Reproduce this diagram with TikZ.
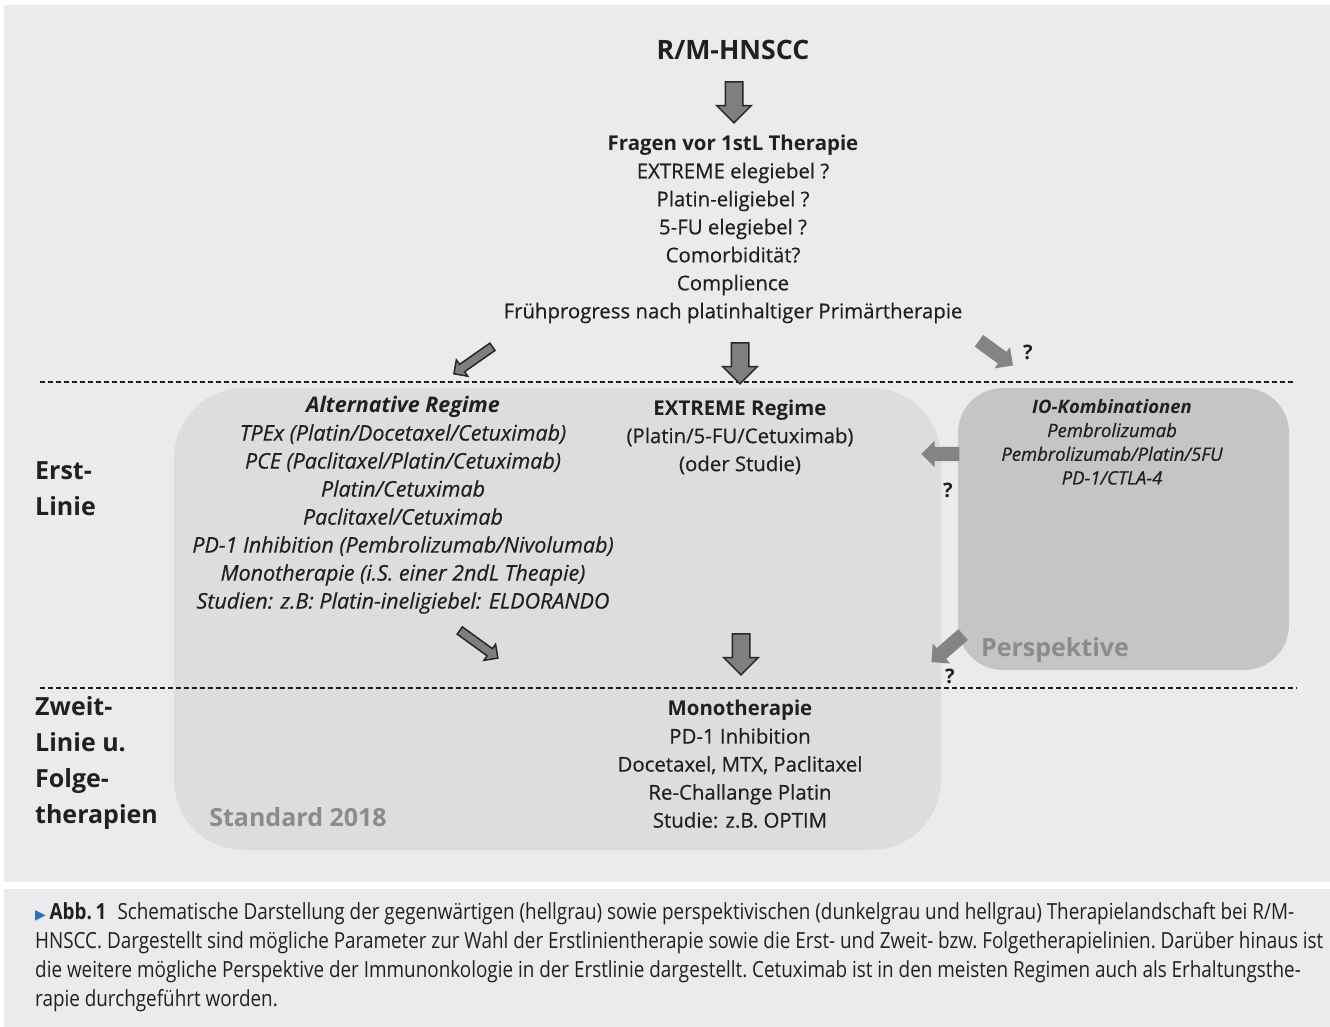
\documentclass[tikz,border=0pt]{standalone}
\usepackage{fontspec}
\setmainfont{Open Sans}[UprightFeatures={FakeBold=0.5}, ItalicFeatures={FakeBold=0.5}]
\newfontfamily\capfont[FakeStretch=0.85]{Open Sans}
\newfontfamily\symfont{DejaVu Sans}
\usetikzlibrary{shapes.arrows}
\definecolor{panelgray}{HTML}{EBEBED}
\definecolor{stdgray}{HTML}{DCDDDF}
\definecolor{iogray}{HTML}{C4C5C7}
\definecolor{taggray}{HTML}{8A8B8D}
\definecolor{textdark}{HTML}{231F20}
\definecolor{arrowfill}{HTML}{7E7F81}
\definecolor{arrowline}{HTML}{262626}
\definecolor{arrowgray}{HTML}{838486}
\definecolor{capblue}{HTML}{2C72B8}
\tikzstyle{panel} = [fill=panelgray, draw=none]
\tikzstyle{stdbox} = [fill=stdgray, draw=none, rounded corners=70pt]
\tikzstyle{iobox} = [fill=iogray, draw=none, rounded corners=45pt]
\tikzstyle{txt} = [align=center, inner sep=0pt, text=textdark, font=\fontsize{20.4}{28}\selectfont]
\tikzstyle{ittxt} = [align=center, inner sep=0pt, text=textdark, font=\itshape\fontsize{21.5}{28}\selectfont]
\tikzstyle{smalltxt} = [align=center, inner sep=0pt, text=textdark, font=\itshape\fontsize{18.5}{23.7}\selectfont]
\tikzstyle{linelabel} = [align=left, anchor=west, inner sep=0pt, text=textdark, font=\bfseries\fontsize{25}{36}\selectfont]
\tikzstyle{tag} = [inner sep=0pt, text=taggray, font=\bfseries\fontsize{25}{30}\selectfont]
\tikzstyle{qmark} = [inner sep=0pt, text=textdark, font=\bfseries\fontsize{20}{24}\selectfont]
\tikzstyle{bigarrow} = [single arrow, draw=arrowline, fill=arrowfill, line width=1.5pt, single arrow head extend=8.5pt, inner sep=8pt, minimum height=41pt]
\tikzstyle{thinarrow} = [single arrow, draw=arrowline, fill=arrowfill, line width=1.5pt, single arrow head extend=5.5pt, inner sep=3.7pt, minimum height=47pt]
\tikzstyle{grayarrow} = [single arrow, draw=none, fill=arrowgray, single arrow head extend=6pt, inner sep=7pt, minimum height=42pt]
\tikzstyle{sepline} = [dash pattern=on 5pt off 3pt, line width=1.1pt, draw=textdark]

\begin{document}
\begin{tikzpicture}[x=1pt, y=-1pt]
    \useasboundingbox (0,0) rectangle (1330,1027);
    % panels
    \fill [panel] (4,5) rectangle (1330,882);
    \fill [panel] (4,889) rectangle (1330,1027);
    \fill [stdbox] (174,388) rectangle (941,850);
    \fill [iobox] (958,388) rectangle (1289,670);
    \draw [sepline] (40,382) -- (1293,382);
    \draw [sepline] (40,688) -- (1297,688);

    \node [txt, font=\bfseries\fontsize{26.7}{30}\selectfont] at (733,50) (title) {R/M-HNSCC};
    \node [txt] at (733,229) (fragen) {\textbf{Fragen vor 1stL Therapie}\\
        EXTREME elegiebel ?\\ Platin-eligiebel ?\\ 5-FU elegiebel ?\\
        Comorbidität?\\ Complience\\
        Frühprogress nach platinhaltiger Primärtherapie};

    \node [ittxt] at (403,505) (altreg) {\textbf{Alternative Regime}\\
        TPEx (Platin/Docetaxel/Cetuximab)\\
        PCE (Paclitaxel/Platin/Cetuximab)\\
        Platin/Cetuximab\\ Paclitaxel/Cetuximab\\
        PD-1 Inhibition (Pembrolizumab/Nivolumab)\\
        Monotherapie (i.S. einer 2ndL Theapie)\\
        Studien: z.B: Platin-ineligiebel: ELDORANDO};
    \node [txt] at (740,437) (extreme) {\textbf{EXTREME Regime}\\
        (Platin/5-FU/Cetuximab)\\ (oder Studie)};
    \node [smalltxt] at (1112,442) (iokomb) {\textbf{IO-Kombinationen}\\
        Pembrolizumab\\ Pembrolizumab/Platin/5FU\\ PD-1/CTLA-4};
    \node [txt] at (740,764) (mono) {\textbf{Monotherapie}\\
        PD-1 Inhibition\\ Docetaxel, MTX, Paclitaxel\\
        Re-Challange Platin\\ Studie: z.B. OPTIM};

    \node [linelabel] at (35,488.5) (erst) {Erst-\\Linie};
    \node [linelabel] at (35,763) (zweit) {Zweit-\\Linie u.\\Folge-\\therapien};
    \node [tag] at (1055,650) (persp) {Perspektive};
    \node [tag] at (298,817) (standard) {Standard 2018};

    % block arrows
    \node [bigarrow, rotate=-90] at (734,98) (a1) {};
    \node [thinarrow, rotate=-145] at (475,359) (a2) {};
    \node [bigarrow, rotate=-90] at (740,359) (a3) {};
    \node [grayarrow, rotate=-36] at (993,351) (a4) {};
    \node [grayarrow, rotate=180, minimum height=38pt] at (944,454) (a5) {};
    \node [thinarrow, rotate=-36] at (477,643) (a6) {};
    \node [bigarrow, rotate=-90] at (741,650) (a7) {};
    \node [grayarrow, rotate=-139] at (950,646) (a8) {};
    \node [qmark] at (1028,352) (q1) {?};
    \node [qmark] at (948,490) (q2) {?};
    \node [qmark] at (950,676) (q3) {?};

    % caption
    \node [anchor=north west, align=left, inner sep=0pt, text=textdark,
        font=\capfont\fontsize{22.2}{29}\selectfont\frenchspacing] at (35,902) (caption)
        {{\symfont\color{capblue}\fontsize{14}{14}\selectfont ▶}\,\textbf{Abb.\,1}\enspace Schematische Darstellung der gegenwärtigen (hellgrau) sowie perspektivischen (dunkelgrau und hellgrau) Therapielandschaft bei R/M-\\
        HNSCC. Dargestellt sind mögliche Parameter zur Wahl der Erstlinientherapie sowie die Erst- und Zweit- bzw. Folgetherapielinien. Darüber hinaus ist\\
        die weitere mögliche Perspektive der Immunonkologie in der Erstlinie dargestellt. Cetuximab ist in den meisten Regimen auch als Erhaltungsthe-\\
        rapie durchgeführt worden.};
\end{tikzpicture}
\end{document}
